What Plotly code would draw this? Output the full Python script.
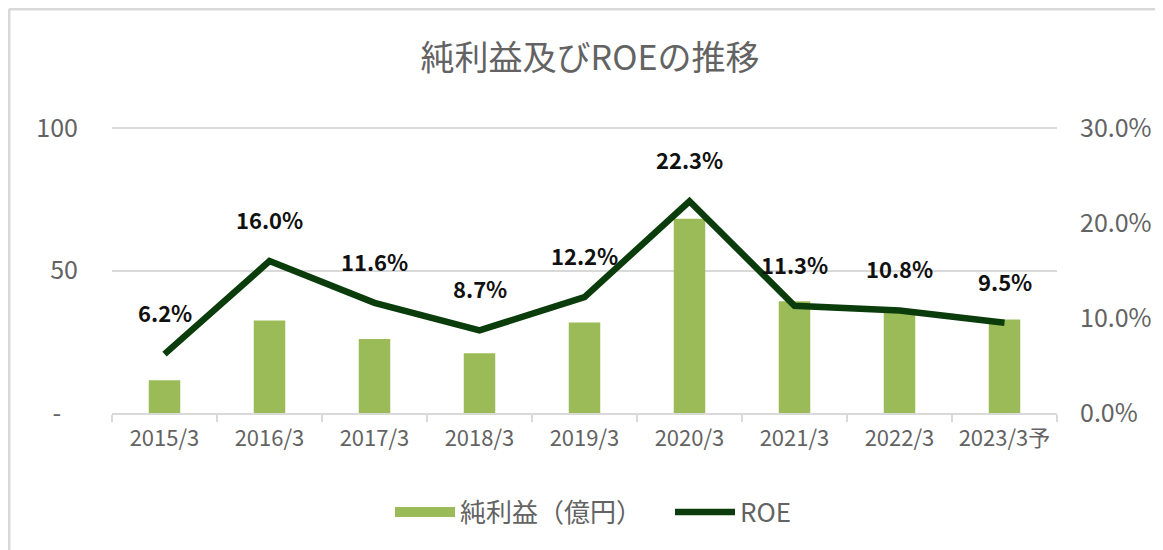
import plotly.graph_objects as go

categories = ["2015/3", "2016/3", "2017/3", "2018/3", "2019/3", "2020/3", "2021/3", "2022/3", "2023/3予"]
net_income = [11.5, 32.5, 26, 21, 31.8, 68.2, 39.2, 35.5, 32.8]
roe = [6.2, 16.0, 11.6, 8.7, 12.2, 22.3, 11.3, 10.8, 9.5]
roe_labels = ["6.2%", "16.0%", "11.6%", "8.7%", "12.2%", "22.3%", "11.3%", "10.8%", "9.5%"]
left_ticks = [0, 50, 100]
left_ticktext = ["-\u00a0\u00a0\u00a0", "50", "100"]
right_ticks = [0, 10, 20, 30]
right_ticktext = ["0.0%", "10.0%", "20.0%", "30.0%"]

FONT = "Noto Sans CJK JP"
GRAY = "#636363"
BAR = "#9BBB59"
LINE = "#0B3C0B"

# page body has an 8px margin: figure placed at (8, 8) in the window
W, H = 1155, 542
ML, MR, MT, MB = 104, 106, 119, 137
PW, PH = W - ML - MR, H - MT - MB

fig = go.Figure()
fig.add_trace(go.Bar(x=categories, y=net_income, name="純利益（億円）", showlegend=False,
                     marker=dict(color=BAR, line=dict(width=0)), yaxis="y"))
# legend-only entry giving a wide swatch for the bars
fig.add_trace(go.Scatter(x=[None], y=[None], name="純利益（億円）", mode="lines",
                         line=dict(color=BAR, width=13), yaxis="y"))
fig.add_trace(go.Scatter(x=categories, y=roe, name="ROE", mode="lines",
                         line=dict(color=LINE, width=6.5), yaxis="y2"))

for c, v, t in zip(categories, roe, roe_labels):
    fig.add_annotation(x=c, y=v, xref="x", yref="y2", text="<b>" + t + "</b>", showarrow=False,
                       yshift=42, font=dict(family=FONT, size=22, color="#111111"))

fig.update_layout(
    width=W, height=H,
    margin=dict(l=ML, r=MR, t=MT, b=MB, autoexpand=False),
    paper_bgcolor="white", plot_bgcolor="white",
    font=dict(family=FONT, color=GRAY),
    title=dict(text="純利益及びROEの推移", x=(590 - 8 - ML) / PW, xref="paper", xanchor="center",
               y=1 - (58 - 8) / H, yanchor="middle",
               font=dict(family=FONT, size=34, color=GRAY)),
    bargap=0.7,
    showlegend=True,
    legend=dict(orientation="h", x=(390 - 8 - ML) / PW, xanchor="left",
                y=(MT + PH - (512 - 8)) / PH, yanchor="middle",
                entrywidth=205, entrywidthmode="pixels",
                font=dict(family=FONT, size=26, color=GRAY), itemwidth=60),
    xaxis=dict(showgrid=False, showline=True, linecolor="#D9D9D9", linewidth=2,
               ticks="outside", tickson="boundaries", tickcolor="#D9D9D9", ticklen=7, tickwidth=2,
               ticklabelstandoff=5,
               tickfont=dict(family=FONT, size=22, color=GRAY)),
    yaxis=dict(range=[0, 100.4], tickvals=left_ticks, ticktext=left_ticktext,
               showgrid=True, gridcolor="#D9D9D9", gridwidth=2, zeroline=False,
               showline=False, ticklabelstandoff=33,
               tickfont=dict(family=FONT, size=25, color=GRAY)),
    yaxis2=dict(range=[0, 30.12], tickvals=right_ticks, ticktext=right_ticktext,
                overlaying="y", side="right", showgrid=False, zeroline=False,
                showline=False, ticklabelstandoff=22,
                tickfont=dict(family=FONT, size=25, color=GRAY)),
    shapes=[
        dict(type="line", xref="paper", yref="paper", x0=(1 - ML) / PW, x1=(W + 20 - ML) / PW,
             y0=(MT + PH - 1) / PH, y1=(MT + PH - 1) / PH, line=dict(color="#D9D9D9", width=3)),
        dict(type="line", xref="paper", yref="paper", x0=(1 - ML) / PW, x1=(1 - ML) / PW,
             y0=(MT + PH - 1) / PH, y1=(MT + PH - H - 20) / PH, line=dict(color="#D9D9D9", width=3)),
    ],
)

fig.write_html("out.html")
